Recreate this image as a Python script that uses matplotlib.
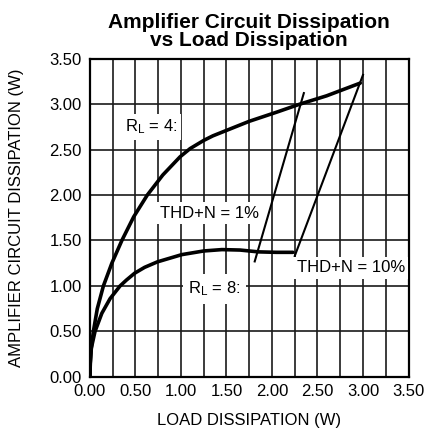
import matplotlib
matplotlib.use("Agg")
import matplotlib.pyplot as plt
from matplotlib.ticker import MultipleLocator

plt.rcParams['font.family'] = ['Liberation Sans', 'DejaVu Sans']
plt.rcParams['mathtext.fontset'] = 'custom'
plt.rcParams['mathtext.rm'] = 'Liberation Sans'
plt.rcParams['mathtext.it'] = 'Liberation Sans:italic'

# Data
rl4_x = [0.0, 0.003, 0.012, 0.037, 0.08, 0.147, 0.24, 0.35, 0.48, 0.63, 0.80, 0.99, 1.10, 1.25, 1.35, 1.45, 1.75, 2.05, 2.31, 2.60, 2.97]
rl4_y = [0.0, 0.15, 0.30, 0.50, 0.75, 1.00, 1.25, 1.50, 1.76, 2.00, 2.22, 2.42, 2.51, 2.60, 2.65, 2.69, 2.81, 2.91, 3.00, 3.09, 3.23]

rl8_x = [0.0, 0.003, 0.015, 0.055, 0.13, 0.22, 0.33, 0.40, 0.49, 0.60, 0.74, 1.01, 1.25, 1.45, 1.65, 1.85, 2.05, 2.23]
rl8_y = [0.0, 0.15, 0.32, 0.50, 0.70, 0.86, 1.00, 1.065, 1.14, 1.205, 1.265, 1.345, 1.385, 1.40, 1.395, 1.375, 1.37, 1.37]

thd1_x = [1.81, 2.35]
thd1_y = [1.27, 3.12]

thd10_x = [2.25, 3.00]
thd10_y = [1.33, 3.32]

x_ticks = [0.0, 0.5, 1.0, 1.5, 2.0, 2.5, 3.0, 3.5]
y_ticks = [0.0, 0.5, 1.0, 1.5, 2.0, 2.5, 3.0, 3.5]

fig = plt.figure(figsize=(4.3, 4.38), dpi=100)
ax = fig.add_axes([0.2093, 0.1393, 0.7407, 0.7271])

ax.set_xlim(0, 3.5)
ax.set_ylim(0, 3.5)
ax.set_xticks(x_ticks)
ax.set_yticks(y_ticks)
ax.set_xticklabels([f"{v:.2f}" for v in x_ticks])
ax.set_yticklabels([f"{v:.2f}" for v in y_ticks])
ax.xaxis.set_minor_locator(MultipleLocator(0.25))
ax.tick_params(which='both', length=0, labelsize=12, colors='black')
ax.tick_params(axis='x', pad=5)
ax.tick_params(axis='y', pad=6)

ax.grid(True, which='major', axis='both', color='#1a1a1a', linewidth=1.2)
ax.grid(True, which='minor', axis='x', color='#1a1a1a', linewidth=1.2)
ax.set_axisbelow(True)
for s in ax.spines.values():
    s.set_linewidth(1.6)
    s.set_color('black')

ax.plot(rl4_x, rl4_y, color='black', linewidth=2.6, solid_capstyle='round', solid_joinstyle='round', zorder=3)
ax.plot(rl8_x, rl8_y, color='black', linewidth=2.6, solid_capstyle='round', solid_joinstyle='round', zorder=3)
ax.plot(thd1_x, thd1_y, color='black', linewidth=1.5, zorder=3)
ax.plot(thd10_x, thd10_y, color='black', linewidth=1.5, zorder=3)

box = dict(facecolor='white', edgecolor='none', pad=2.5)
ax.text(0.385, 2.75, r'R$_{\rm L}$ = 4:', fontsize=12, ha='left', va='center', bbox=box, zorder=4)
ax.text(0.77, 1.80, 'THD+N = 1%', fontsize=12, ha='left', va='center', bbox=box, zorder=4)
ax.text(1.08, 0.97, r'R$_{\rm L}$ = 8:', fontsize=12, ha='left', va='center',
        bbox=dict(facecolor='white', edgecolor='none', pad=4), zorder=4)
ax.text(2.27, 1.20, 'THD+N = 10%', fontsize=12, ha='left', va='center', bbox=box, zorder=4)

ax.set_title('Amplifier Circuit Dissipation\nvs Load Dissipation', fontsize=15,
             fontweight='bold', linespacing=0.95, pad=9)
ax.set_xlabel('LOAD DISSIPATION (W)', fontsize=12, labelpad=10)
ax.set_ylabel('AMPLIFIER CIRCUIT DISSIPATION (W)', fontsize=12, labelpad=18)

fig.savefig('out.png', dpi=100)
